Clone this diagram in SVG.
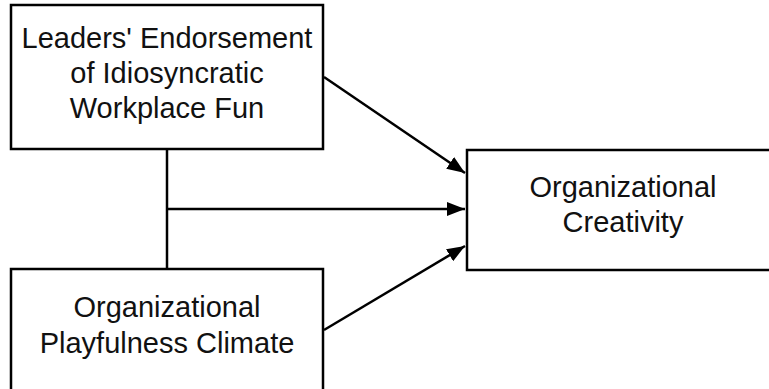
<svg xmlns="http://www.w3.org/2000/svg" width="769" height="389" viewBox="0 0 769 389">
<style>
.box{fill:#fff;stroke:#000;stroke-width:2.5}
.lbl{font-family:"Liberation Sans",Arial,sans-serif;font-size:29px;fill:#111;text-anchor:middle}
.ln{stroke:#000;stroke-width:2.5;fill:none}
</style>
<defs>
<marker id="ah" markerUnits="userSpaceOnUse" markerWidth="20" markerHeight="14" refX="18" refY="7" orient="auto">
<path d="M0,0 L18,7 L0,14 Z" fill="#000"/>
</marker>
</defs>
<rect width="769" height="389" fill="#fff"/>
<g id="connectors">
<line class="ln" x1="167" y1="149" x2="167" y2="269"/>
<line class="ln" x1="167" y1="209" x2="465" y2="209" marker-end="url(#ah)"/>
<line class="ln" x1="324" y1="77" x2="465" y2="173" marker-end="url(#ah)"/>
<line class="ln" x1="324" y1="330" x2="465" y2="246" marker-end="url(#ah)"/>
</g>
<g id="n1">
<rect class="box" x="11" y="5" width="312" height="144"/>
<text class="lbl" x="167" y="48">Leaders' Endorsement</text>
<text class="lbl" x="167" y="83">of Idiosyncratic</text>
<text class="lbl" x="167" y="118">Workplace Fun</text>
</g>
<g id="n2">
<rect class="box" x="11" y="269" width="312" height="130"/>
<text class="lbl" x="167" y="317">Organizational</text>
<text class="lbl" x="167" y="353">Playfulness Climate</text>
</g>
<g id="n3">
<rect class="box" x="467" y="150" width="320" height="120"/>
<text class="lbl" x="623" y="197">Organizational</text>
<text class="lbl" x="623" y="232">Creativity</text>
</g>
</svg>
